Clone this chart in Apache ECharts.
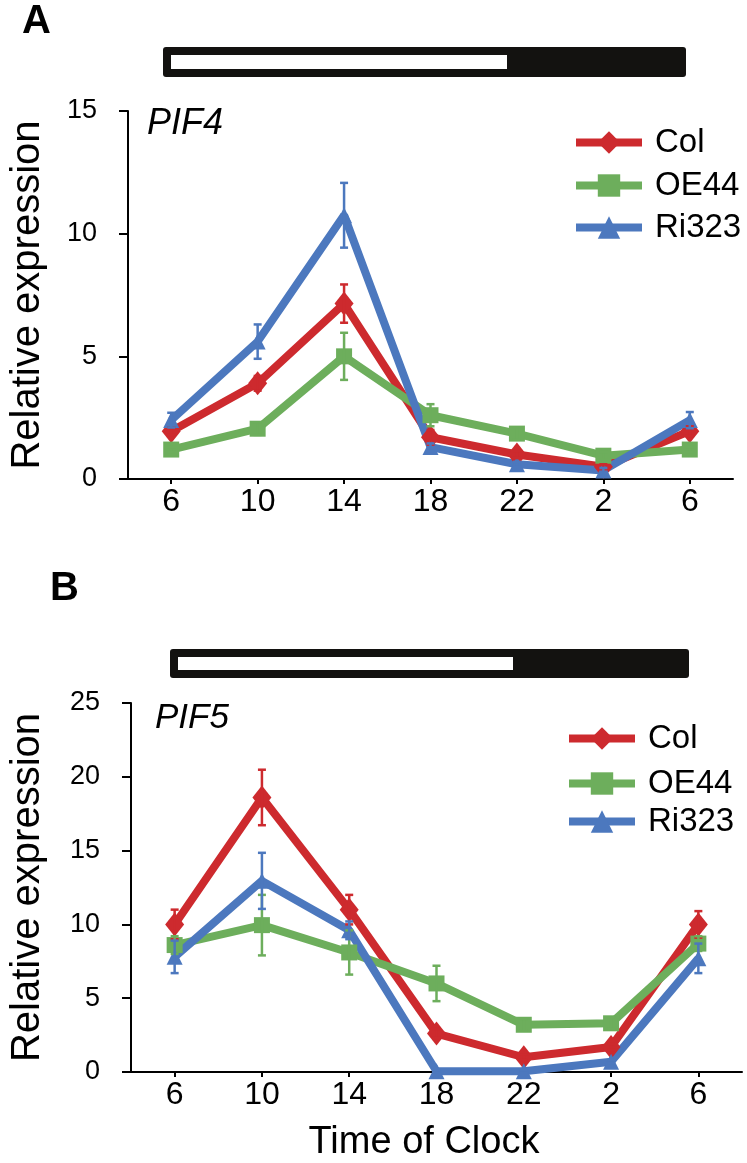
<!DOCTYPE html>
<html>
<head>
<meta charset="utf-8">
<script src="https://cdn.jsdelivr.net/npm/echarts@6/dist/echarts.min.js"></script>
<style>
  html, body { margin: 0; padding: 0; background: #fff; }
  #chart { width: 747px; height: 1163px; }
</style>
</head>
<body>
<div id="chart"></div>
<script>
// time of day (hours)
const hours = ['6', '10', '14', '18', '22', '2', '6'];

// PIF4 (panel A)
const pif4Col = [1.95, 3.9, 7.15, 1.7, 1.0, 0.5, 1.95];
const pif4ColErr = [0.15, 0.3, 0.78, 0.3, 0.15, 0.1, 0.2];
const pif4OE = [1.2, 2.05, 5.0, 2.6, 1.85, 0.95, 1.2];
const pif4OEErr = [0.1, 0.25, 0.96, 0.45, 0.25, 0.15, 0.1];
const pif4Ri = [2.4, 5.6, 10.75, 1.3, 0.6, 0.35, 2.4];
const pif4RiErr = [0.3, 0.7, 1.32, 0.15, 0.1, 0.1, 0.33];

// PIF5 (panel B)
const pif5Col = [10.0, 18.6, 11.0, 2.6, 1.0, 1.7, 10.0];
const pif5ColErr = [1.0, 1.88, 1.0, 0.3, 0.2, 0.2, 0.9];
const pif5OE = [8.6, 9.95, 8.1, 6.0, 3.2, 3.3, 8.7];
const pif5OEErr = [0.6, 2.05, 1.5, 1.2, 0.4, 0.4, 0.5];
const pif5Ri = [7.8, 12.95, 9.6, 0.05, 0.05, 0.7, 7.7];
const pif5RiErr = [1.1, 1.9, 0.6, 0.05, 0.05, 0.1, 1.0];

const yTicksA = {min: 0, max: 15, interval: 5};
const yTicksB = {min: 0, max: 25, interval: 5};

const RED = '#cd2a2e', GREEN = '#6dae5c', BLUE = '#4c78be';
const FONT = '"Liberation Sans", Arial, sans-serif';

function lineSeries(name, data, color, symbol, size, idx) {
  return {
    name: name,
    type: 'line',
    xAxisIndex: idx,
    yAxisIndex: idx,
    data: data,
    symbol: symbol,
    symbolSize: size,
    lineStyle: {width: 8, color: color},
    itemStyle: {color: color},
    z: 3
  };
}

function errSeries(vals, errs, color, idx) {
  return {
    type: 'custom',
    xAxisIndex: idx,
    yAxisIndex: idx,
    z: 4,
    silent: true,
    data: vals.map((v, i) => [i, v - errs[i], v + errs[i]]),
    renderItem: function (params, api) {
      const lo = api.coord([api.value(0), api.value(1)]);
      const hi = api.coord([api.value(0), api.value(2)]);
      const w = 4;
      const st = {stroke: color, lineWidth: 2.5};
      return {
        type: 'group',
        children: [
          {type: 'line', shape: {x1: lo[0], y1: lo[1], x2: hi[0], y2: hi[1]}, style: st},
          {type: 'line', shape: {x1: lo[0] - w, y1: lo[1], x2: lo[0] + w, y2: lo[1]}, style: st},
          {type: 'line', shape: {x1: hi[0] - w, y1: hi[1], x2: hi[0] + w, y2: hi[1]}, style: st}
        ]
      };
    }
  };
}

function xAxis(idx) {
  return {
    type: 'category',
    gridIndex: idx,
    data: hours,
    boundaryGap: true,
    axisLine: {lineStyle: {color: '#000', width: 2}},
    axisTick: {show: true, alignWithLabel: true, length: 5, lineStyle: {color: '#000', width: 2}},
    axisLabel: {color: '#000', fontSize: 32, fontFamily: FONT, margin: 7},
    splitLine: {show: false}
  };
}

function yAxis(idx, t, gap) {
  return {
    type: 'value',
    gridIndex: idx,
    min: t.min, max: t.max, interval: t.interval,
    name: 'Relative expression',
    nameLocation: 'middle',
    nameGap: gap,
    nameTextStyle: {color: '#000', fontSize: 40, fontFamily: FONT},
    axisLine: {show: true, lineStyle: {color: '#000', width: 2}},
    axisTick: {show: true, length: 9, lineStyle: {color: '#000', width: 2}},
    axisLabel: {color: '#000', fontSize: 27, fontFamily: FONT, margin: 31},
    splitLine: {show: false}
  };
}

function legendItem(name, left, top) {
  return {
    data: [name],
    left: left,
    top: top,
    orient: 'vertical',
    itemWidth: 66,
    itemHeight: 28,
    selectedMode: false,
    lineStyle: {width: 8},
    textStyle: {color: '#000', fontSize: 33, fontFamily: FONT, lineHeight: 32, padding: [0, 0, 0, 8]}
  };
}

function dayBar(x, y, w, h, lightW) {
  return [
    {type: 'rect', left: x, top: y, shape: {width: w, height: h, r: 3}, style: {fill: '#131210'}},
    {type: 'rect', left: x + 8, top: y + 8, shape: {width: lightW, height: h - 16}, style: {fill: '#fff'}}
  ];
}

const chart = echarts.init(document.getElementById('chart'));
chart.setOption({
  backgroundColor: '#fff',
  animation: false,
  grid: [
    {left: 117, right: 14, top: 111, height: 368},
    {left: 127, right: 5, top: 703, height: 369}
  ],
  xAxis: [
    xAxis(0),
    Object.assign(xAxis(1), {
      name: 'Time of Clock',
      nameLocation: 'middle',
      nameGap: 52,
      nameTextStyle: {color: '#000', fontSize: 38, fontFamily: FONT, padding: [0, 25, 0, 0]}
    })
  ],
  yAxis: [yAxis(0, yTicksA, 80), yAxis(1, yTicksB, 83)],
  legend: [
    legendItem('Col', 567, 121),
    legendItem('OE44', 567, 164),
    legendItem('Ri323', 567, 206),
    legendItem('Col', 560, 717),
    legendItem('OE44', 560, 762),
    legendItem('Ri323', 560, 800)
  ],
  graphic: [
    {type: 'text', left: 22, top: 2, style: {text: 'A', fontSize: 40, fontWeight: 'bold', fontFamily: FONT, fill: '#000'}},
    {type: 'text', left: 50, top: 569, style: {text: 'B', fontSize: 40, fontWeight: 'bold', fontFamily: FONT, fill: '#000'}},
    {type: 'text', left: 147, top: 106, style: {text: 'PIF4', fontSize: 36, fontStyle: 'italic', fontFamily: FONT, fill: '#000'}},
    {type: 'text', left: 155, top: 701, style: {text: 'PIF5', fontSize: 35, fontStyle: 'italic', fontFamily: FONT, fill: '#000'}}
  ].concat(dayBar(163, 47, 523, 30, 336), dayBar(170, 649, 519, 29, 335)),
  series: [
    lineSeries('Col', pif4Col, RED, 'diamond', [19, 24], 0),
    lineSeries('OE44', pif4OE, GREEN, 'rect', 16, 0),
    lineSeries('Ri323', pif4Ri, BLUE, 'triangle', 16, 0),
    errSeries(pif4Col, pif4ColErr, RED, 0),
    errSeries(pif4OE, pif4OEErr, GREEN, 0),
    errSeries(pif4Ri, pif4RiErr, BLUE, 0),
    lineSeries('Col', pif5Col, RED, 'diamond', [19, 24], 1),
    lineSeries('OE44', pif5OE, GREEN, 'rect', 16, 1),
    lineSeries('Ri323', pif5Ri, BLUE, 'triangle', 16, 1),
    errSeries(pif5Col, pif5ColErr, RED, 1),
    errSeries(pif5OE, pif5OEErr, GREEN, 1),
    errSeries(pif5Ri, pif5RiErr, BLUE, 1)
  ]
});
</script>
</body>
</html>
